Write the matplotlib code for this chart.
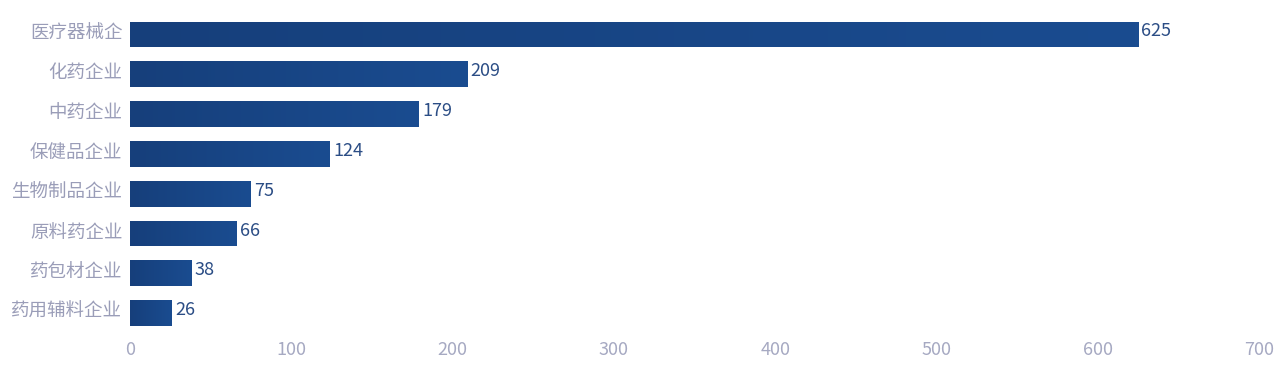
import matplotlib
matplotlib.use("Agg")
import matplotlib.pyplot as plt
import numpy as np
from matplotlib.colors import LinearSegmentedColormap
from matplotlib.transforms import ScaledTranslation

plt.rcParams['font.family'] = ['Noto Sans CJK SC', 'DejaVu Sans']

categories = ["医疗器械企", "化药企业", "中药企业", "保健品企业", "生物制品企业", "原料药企业", "药包材企业", "药用辅料企业"]
values = [625, 209, 179, 124, 75, 66, 38, 26]
xticks = [0, 100, 200, 300, 400, 500, 600, 700]

fig = plt.figure(figsize=(12.8, 3.82), dpi=100)
ax = fig.add_axes([130/1280, 1-333/382, 1129/1280, (333-14.6)/382])

y = np.arange(len(categories))
bars = ax.barh(y, values, height=0.65, color="#17468a", edgecolor="none")
cmap = LinearSegmentedColormap.from_list("g", ["#163f7b", "#1a4c90"])
grad = np.linspace(0, 1, 256).reshape(1, -1)
for b in bars:
    x0, y0, w, h = b.get_x(), b.get_y(), b.get_width(), b.get_height()
    b.set_facecolor("none")
    im = ax.imshow(grad, cmap=cmap, aspect="auto", extent=(x0, x0 + w, y0 + h, y0), zorder=2)
    im.set_clip_path(b)

up = ScaledTranslation(0, 3/100, fig.dpi_scale_trans)
for yi, v in zip(y, values):
    ax.text(v + 2, yi, str(v), va="center", ha="left", fontsize=13, color="#2b4d85", zorder=3,
            transform=ax.transData + up)

ax.set_xlim(0, 700)
ax.set_ylim(len(categories) - 0.5, -0.5)
ax.set_yticks(y)
ax.set_yticklabels(categories)
ax.set_xticks(xticks)
ax.set_xticklabels([str(t) for t in xticks])
ax.tick_params(axis='y', length=0, pad=5.5, labelsize=13.3, labelcolor="#9a9db8")
ax.tick_params(axis='x', length=0, pad=6, labelsize=13, labelcolor="#a6a9c2")
for lab in ax.get_yticklabels():
    lab.set_transform(lab.get_transform() + up)
for s in ax.spines.values():
    s.set_visible(False)

fig.savefig("out.png", dpi=100)
